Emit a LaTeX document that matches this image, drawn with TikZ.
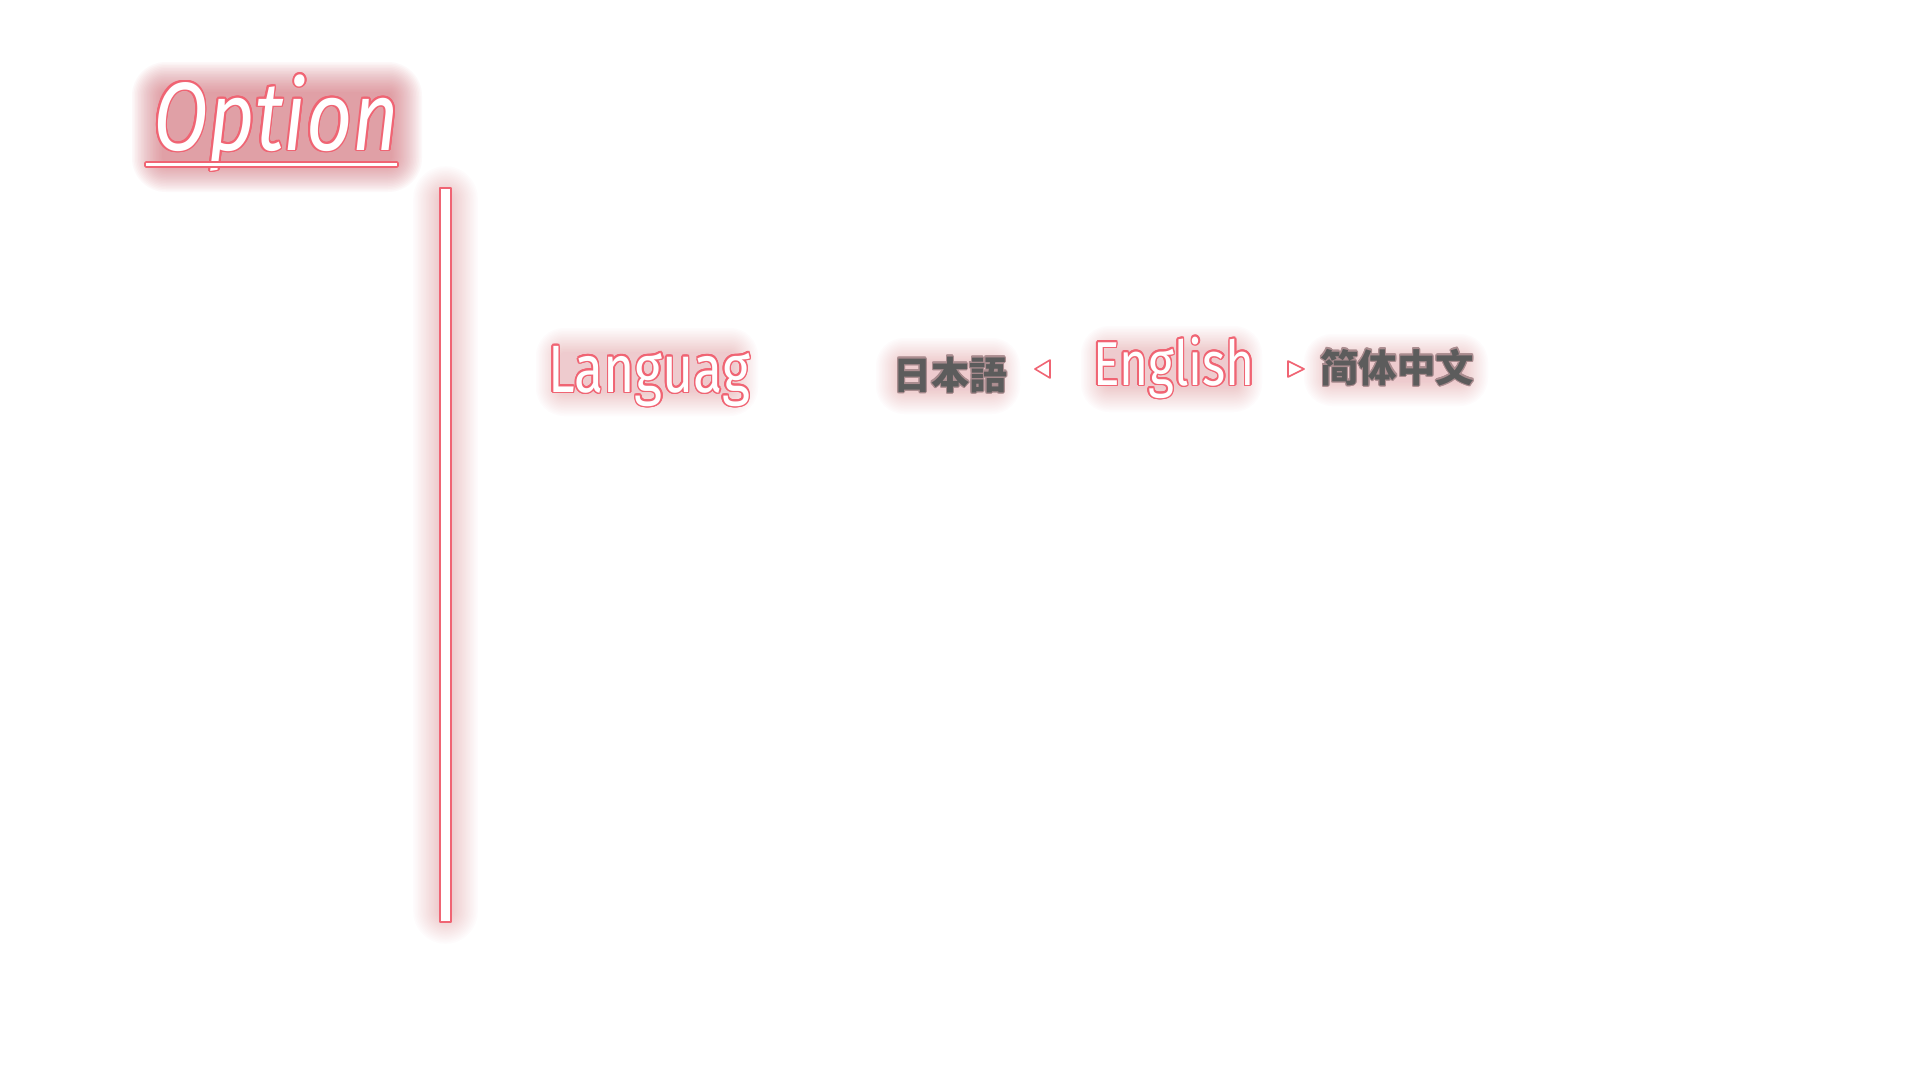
\documentclass[tikz,border=0pt]{standalone}
\usepackage{fontspec}
\setmainfont{Fira Sans}
\newfontfamily\jpfont{Noto Sans CJK JP}
\newfontfamily\scfont{Noto Sans CJK SC}
\usetikzlibrary{calc}
\definecolor{neon}{RGB}{240,100,115}
\definecolor{glowc}{RGB}{210,100,110}
\definecolor{cjkgray}{RGB}{92,92,92}
\definecolor{cjkedge}{RGB}{170,140,143}
\tikzset{
  neonline/.style={draw=neon,line width=1.6pt,fill=white,line join=round},
  txt/.style={anchor=base west,inner sep=0pt}
}
% outlined text: name, x, y, edge colour, text colour, radius, content
\newcommand\outlined[7]{%
  \foreach \a in {0,22.5,...,337.5}
    \node[txt,text=#4] at ([shift={(\a:#6pt)}]#2,#3) {#7};
  \node[txt,text=#5] (#1) at (#2,#3) {#7};
}
% soft glow: x1 y1 x2 y2 step opacity layers
\newcommand\glowbox[7]{%
  \foreach \k [evaluate=\k as \r using {\k*#5+4}] in {0,...,#7}
    \fill[glowc,opacity=#6,rounded corners=\r pt] (#1-\k*#5,#2-\k*#5) rectangle (#3+\k*#5,#4+\k*#5);
}
\begin{document}
\begin{tikzpicture}[x=1pt,y=-1pt]
\fill[white] (0,0) rectangle (1920,1080);
\useasboundingbox (0,0) rectangle (1920,1080);
% glows
\glowbox{162}{92}{392}{162}{1.5}{0.04}{20}
\glowbox{442}{195}{449}{915}{1.6}{0.018}{18}
\glowbox{560}{352}{734}{392}{1.5}{0.02}{16}
\glowbox{900}{362}{996}{390}{1.5}{0.02}{16}
\glowbox{1105}{350}{1238}{388}{1.5}{0.02}{16}
\glowbox{1328}{358}{1464}{382}{1.5}{0.02}{16}
% title
\outlined{opt}{153}{150}{neon}{white}{1.7}{\itshape\fontsize{97}{97}\selectfont\scalebox{0.83}[1]{Option}}
\draw[neonline,rounded corners=1pt] (145,162) rectangle (398,167);
% vertical bar
\draw[neonline] (440,188) rectangle (451,922);
% language row
\outlined{lang}{548}{392}{neon}{white}{1.5}{\fontsize{67}{67}\selectfont\scalebox{0.8}[1]{Languag}}
\outlined{ja}{893}{389}{cjkedge}{cjkgray}{1.1}{\jpfont\bfseries\fontsize{38}{38}\selectfont 日本語}
\draw[neonline] (1050,360) -- (1035,369) -- (1050,378) -- cycle;
\outlined{en}{1093}{385}{neon}{white}{1.5}{\fontsize{62}{62}\selectfont\scalebox{0.8}[1]{English}}
\draw[neonline] (1288,361) -- (1304,369) -- (1288,377) -- cycle;
\outlined{zh}{1320}{382}{cjkedge}{cjkgray}{1.1}{\scfont\bfseries\fontsize{38.5}{38.5}\selectfont 简体中文}
\end{tikzpicture}
\end{document}
